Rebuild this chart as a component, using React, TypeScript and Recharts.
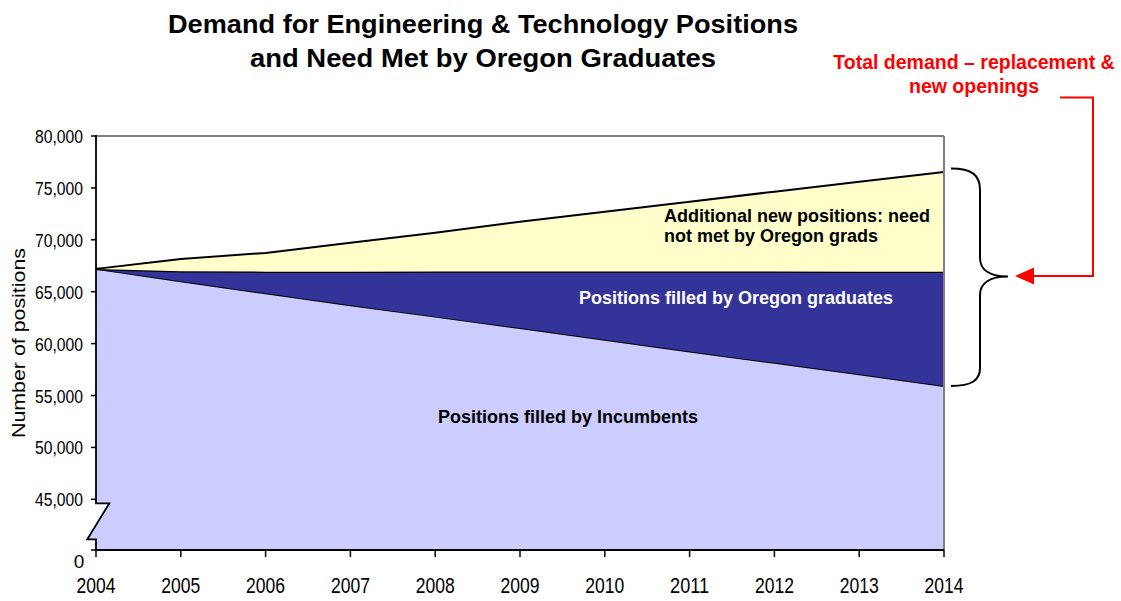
import { AreaChart, Area, XAxis, YAxis, ReferenceLine } from 'recharts';

// values (number of positions)
const YEARS = ['2004', '2005', '2006', '2007', '2008', '2009', '2010', '2011', '2012', '2013', '2014'];
const TOTAL_DEMAND = [67200, 68150, 68740, 69710, 70680, 71740, 72700, 73670, 74640, 75590, 76540];
const FILLED_TOTAL = [67200, 66980, 66930, 66930, 66950, 66950, 66950, 66950, 66940, 66930, 66920];
const INCUMBENTS = [67200, 66000, 64850, 63700, 62600, 61500, 60380, 59250, 58150, 57050, 55920];

// broken axis: the bottom of the plot stands for 0
const Y_BASE = 40120;
const Y_TICKS = [Y_BASE, 45000, 50000, 55000, 60000, 65000, 70000, 75000, 80000];

const NARROW = "'Liberation Sans Narrow', 'Arial Narrow', 'Liberation Sans', Arial, sans-serif";
const SANS = "'Liberation Sans', Arial, sans-serif";

const rows = YEARS.map((year, i) => ({
  year,
  incumbents: INCUMBENTS[i],
  grads: FILLED_TOTAL[i] - INCUMBENTS[i],
  unmet: TOTAL_DEMAND[i] - FILLED_TOTAL[i],
}));

const fmt = (v: number) => (v <= Y_BASE ? '0' : v.toLocaleString('en-US'));

function YTick({ x, y, payload }: any) {
  if (payload.value <= Y_BASE) {
    return (
      <text x={x - 10} y={y + 18} textAnchor="middle" fontFamily={NARROW} fontSize={19} fill="#000">
        0
      </text>
    );
  }
  return (
    <text x={x - 6} y={y + 7} textAnchor="end" fontFamily={NARROW} fontSize={19} fill="#000"
      textLength={48} lengthAdjust="spacingAndGlyphs">
      {fmt(payload.value)}
    </text>
  );
}

function XTick({ x, y, payload }: any) {
  return (
    <text x={x} y={y + 34} textAnchor="middle" fontFamily={NARROW} fontSize={22} fill="#000"
      textLength={39} lengthAdjust="spacingAndGlyphs">
      {payload.value}
    </text>
  );
}

export default function App() {
  return (
    <div style={{ position: 'absolute', left: 0, top: 0, width: 1121, height: 601, background: '#fff' }}>
      <AreaChart width={1121} height={601} data={rows} margin={{ top: 136, right: 177, bottom: 0, left: 16 }}>
        <XAxis dataKey="year" interval={0} height={51} tickSize={7}
          axisLine={{ stroke: '#000', strokeWidth: 2 }} tickLine={{ stroke: '#000', strokeWidth: 1.5 }}
          tick={<XTick />} />
        <YAxis domain={[Y_BASE, 80000]} ticks={Y_TICKS} interval={0} allowDataOverflow width={80}
          axisLine={false} tickSize={5} tickLine={{ stroke: '#000', strokeWidth: 1.5 }} tick={<YTick />} />
        <Area type="linear" dataKey="incumbents" stackId="d" fill="#CCCCFF" fillOpacity={1}
          stroke="#000" strokeWidth={2} isAnimationActive={false} />
        <Area type="linear" dataKey="grads" stackId="d" fill="#333399" fillOpacity={1}
          stroke="#000" strokeWidth={2.5} isAnimationActive={false} />
        <Area type="linear" dataKey="unmet" stackId="d" fill="#FFFFCC" fillOpacity={1}
          stroke="#000" strokeWidth={2} isAnimationActive={false} />
        <ReferenceLine y={80000} stroke="#808080" strokeWidth={2} />
        <ReferenceLine x="2014" stroke="#808080" strokeWidth={2} />
      </AreaChart>

      <svg width={1121} height={601} style={{ position: 'absolute', left: 0, top: 0, pointerEvents: 'none' }}>
        {/* title */}
        <text x={483} y={33} textAnchor="middle" fontFamily={NARROW} fontWeight="bold" fontSize={26}
          textLength={630} lengthAdjust="spacingAndGlyphs">Demand for Engineering &amp; Technology Positions</text>
        <text x={483} y={67} textAnchor="middle" fontFamily={NARROW} fontWeight="bold" fontSize={26}
          textLength={466} lengthAdjust="spacingAndGlyphs">and Need Met by Oregon Graduates</text>

        {/* y axis title */}
        <text transform="translate(25 343) rotate(-90)" textAnchor="middle" fontFamily={SANS} fontSize={18}
          textLength={190} lengthAdjust="spacingAndGlyphs">Number of positions</text>

        {/* y axis line with break */}
        <polygon points="96,503.3 109.3,503.3 96,525.1" fill="#fff" />
        <polygon points="96,525.1 87.3,539.3 96,539.3" fill="#CCCCFF" />
        <path d="M96 135 V503.3 H109.3 L87.3 539.3 H96 V551" fill="none" stroke="#000" strokeWidth={1.8} />

        {/* labels inside the areas */}
        <text x={664} y={221.5} fontFamily={SANS} fontWeight="bold" fontSize={18} fill="#000">Additional new positions: need</text>
        <text x={664} y={242} fontFamily={SANS} fontWeight="bold" fontSize={18} fill="#000">not met by Oregon grads</text>
        <text x={579} y={303.5} fontFamily={SANS} fontWeight="bold" fontSize={18} fill="#fff">Positions filled by Oregon graduates</text>
        <text x={438} y={423} fontFamily={SANS} fontWeight="bold" fontSize={18} fill="#000">Positions filled by Incumbents</text>

        {/* brace */}
        <path d="M951 168.5 C972 168.5 980 175 980 190 L980 258 C980 270 990 276.5 1008 276.5 C990 276.5 980 283 980 295 L980 368 C980 380 972 386 951 386"
          fill="none" stroke="#000" strokeWidth={2} />

        {/* red callout */}
        <text x={974} y={69} textAnchor="middle" fontFamily={SANS} fontWeight="bold" fontSize={19.5} fill="#FF0000">Total demand – replacement &amp;</text>
        <text x={974} y={93} textAnchor="middle" fontFamily={SANS} fontWeight="bold" fontSize={19.5} fill="#FF0000">new openings</text>
        <path d="M1060 97.5 H1093 V276 H1032" fill="none" stroke="#FF0000" strokeWidth={2} />
        <polygon points="1015,276 1034,267.5 1034,284.5" fill="#FF0000" />
      </svg>
    </div>
  );
}
